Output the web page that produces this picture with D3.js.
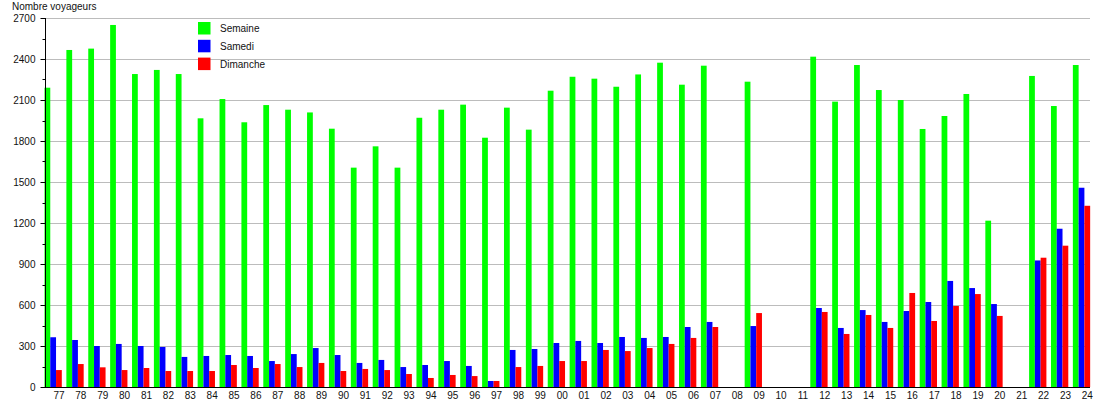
<!DOCTYPE html>
<html>
<head>
<meta charset="utf-8">
<script src="https://cdn.jsdelivr.net/npm/d3@7"></script>
<style>
  body { margin: 0; background: #fff; }
  text { font-family: "Liberation Sans", Arial, sans-serif; font-size: 10px; fill: #111; }
</style>
</head>
<body>
<svg width="1110" height="400"></svg>
<script>
  const annees = ['77','78','79','80','81','82','83','84','85','86','87','88','89','90','91','92','93','94','95','96','97','98','99',
    '00','01','02','03','04','05','06','07','08','09','10','11','12','13','14','15','16','17','18','19','20','21','22','23','24'];
  const semaine = [2190,2466,2476,2649,2290,2320,2290,1966,2107,1937,2063,2029,2009,1890,1605,1761,1605,1970,2029,2066,1824,2044,1883,
    2168,2270,2256,2197,2287,2373,2212,2351,0,2234,0,0,2417,2088,2356,2173,2100,1888,1983,2144,1217,0,2276,2056,2356];
  const samedi = [364,344,300,315,300,293,220,227,234,227,190,241,285,234,176,198,146,161,190,154,44,271,278,
    322,337,322,366,359,366,439,476,0,446,0,0,578,432,563,476,556,622,776,724,607,0,926,1158,1458];
  const dimanche = [124,168,144,124,139,117,117,117,161,139,168,146,176,117,132,124,95,66,88,80,44,146,154,
    190,190,271,263,285,315,359,439,0,541,0,0,549,388,527,432,688,483,593,680,520,0,946,1034,1326];
  const series = ['Semaine', 'Samedi', 'Dimanche'];
  const couleurs = ['#00ff00', '#0000ff', '#ff0000'];
  const yTicks = [0,300,600,900,1200,1500,1800,2100,2400,2700];
  const yMinor = [150,450,750,1050,1350,1650,1950,2250,2550];

(function (d3) {
  'use strict';
  const svg = d3.select('svg');
  const gauche = 45, droite = 1090, haut = 18, bas = 387;

  const x = d3.scaleBand()
    .domain(annees)
    .range([44.5, 44.5 + annees.length * 21.88]);
  const xs = d3.scaleBand()
    .domain(series)
    .range([0, 17.3]);
  const y = d3.scaleLinear()
    .domain([0, 2700])
    .range([bas, haut]);

  // grille
  svg.append('g').selectAll('line').data(yTicks.slice(1))
    .enter().append('line')
      .attr('x1', gauche).attr('x2', droite)
      .attr('y1', d => Math.round(y(d)) + 0.5)
      .attr('y2', d => Math.round(y(d)) + 0.5)
      .attr('stroke', '#bcbcbc');

  const rows = annees.map((a, i) => ({ annee: a, vals: [semaine[i], samedi[i], dimanche[i]] }));

  const groups = svg.append('g').selectAll('g').data(rows)
    .enter().append('g')
      .attr('transform', d => `translate(${x(d.annee)},0)`);
  groups.selectAll('rect').data(d => d.vals.map((v, k) => ({ serie: series[k], v: v, c: couleurs[k] })))
    .enter().append('rect')
      .attr('x', d => xs(d.serie))
      .attr('width', xs.bandwidth())
      .attr('y', d => y(d.v))
      .attr('height', d => bas - y(d.v))
      .attr('fill', d => d.c);

  // axe y
  const yAxisG = svg.append('g')
    .attr('transform', `translate(${gauche + 0.5},0)`)
    .call(d3.axisLeft(y).tickValues(yTicks).tickSize(5).tickPadding(5).tickFormat(d3.format('d')));
  yAxisG.select('.domain').attr('d', `M0,${haut}V${bas}`).attr('stroke', '#000');
  yAxisG.selectAll('.tick line').attr('stroke', '#000');
  yAxisG.selectAll('text').style('font-size', '10px').attr('fill', '#111');
  yAxisG.selectAll('.minor').data(yMinor)
    .enter().append('line')
      .attr('class', 'minor')
      .attr('x1', -3).attr('x2', 0)
      .attr('y1', d => Math.round(y(d)) + 0.5)
      .attr('y2', d => Math.round(y(d)) + 0.5)
      .attr('stroke', '#000');

  // axe x
  svg.append('line')
    .attr('x1', gauche).attr('x2', droite)
    .attr('y1', bas + 0.5).attr('y2', bas + 0.5)
    .attr('stroke', '#000');
  svg.append('g').selectAll('text').data(annees)
    .enter().append('text')
      .attr('x', d => x(d) + 14.5)
      .attr('y', 399)
      .attr('text-anchor', 'middle')
      .text(d => d);

  svg.append('text')
    .attr('x', 12)
    .attr('y', 10)
    .text('Nombre voyageurs');

  // légende
  const legend = svg.append('g').selectAll('g').data(series)
    .enter().append('g')
      .attr('transform', (d, i) => `translate(198,${22 + i * 17.8})`);
  legend.append('rect')
    .attr('width', 12.5).attr('height', 12.5)
    .attr('fill', (d, i) => couleurs[i]);
  legend.append('text')
    .attr('x', 22)
    .attr('y', 6.5)
    .attr('dy', '0.35em')
    .text(d => d);
}(d3));
</script>
</body>
</html>
